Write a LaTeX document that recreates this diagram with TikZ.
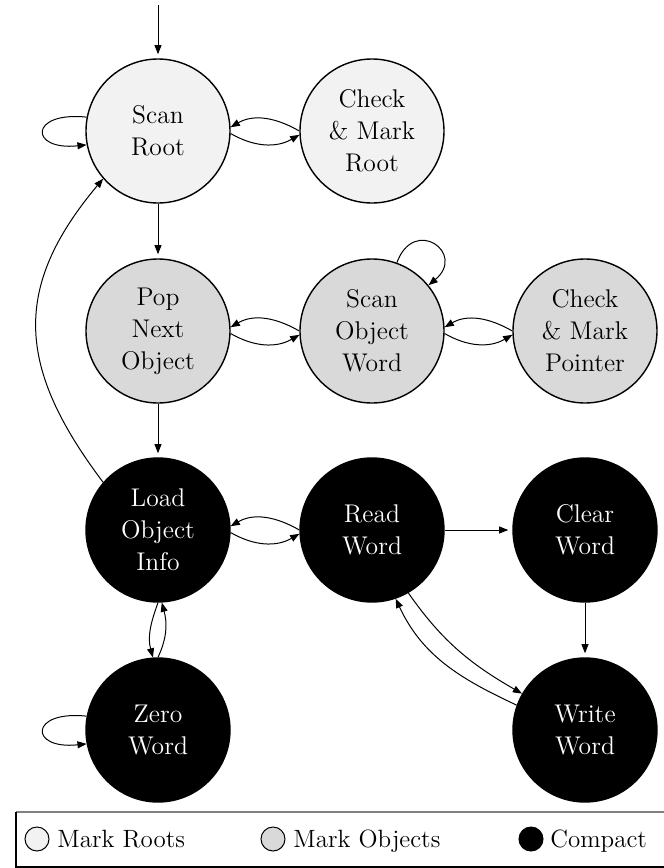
\documentclass[tikz,border=0pt]{standalone}
\usetikzlibrary{arrows.meta}
\definecolor{rootfill}{HTML}{F2F2F2}
\definecolor{objfill}{HTML}{D9D9D9}
\definecolor{legline}{HTML}{808080}
\begin{document}
\begin{tikzpicture}[x=0.5pt,y=0.5pt,
  >={Triangle[length=4.6pt,width=3.5pt]},
  state/.style={circle, draw, line width=0.7pt, minimum size=72pt, inner sep=0pt,
    align=center, font=\fontsize{12.8}{16}\selectfont},
  rootst/.style={state, fill=rootfill},
  objst/.style={state, fill=objfill},
  compst/.style={state, fill=black, text=white},
  edge/.style={->, line width=0.5pt},
  straight/.style={edge, shorten >=2pt},
  legc/.style={circle, draw, line width=0.5pt, minimum size=12pt, inner sep=0pt},
  legt/.style={anchor=base west, inner sep=0pt, font=\fontsize{12.5}{16}\selectfont}]
\useasboundingbox (0,0) rectangle (664,-868);

% states
\node[rootst] (sr)  at (158,-131) {Scan\\Root};
\node[rootst] (cmr) at (372,-131) {Check\\\& Mark\\Root};
\node[objst]  (pno) at (158,-331) {Pop\\Next\\Object};
\node[objst]  (sow) at (372,-331) {Scan\\Object\\Word};
\node[objst]  (cmp) at (585,-331) {Check\\\& Mark\\Pointer};
\node[compst] (loi) at (158,-530) {Load\\Object\\Info};
\node[compst] (rw)  at (372,-530) {Read\\Word};
\node[compst] (cw)  at (585,-530) {Clear\\Word};
\node[compst] (zw)  at (158,-730) {Zero\\Word};
\node[compst] (ww)  at (585,-730) {Write\\Word};

% connectors
\coordinate (start) at (158,-5);
\draw[straight] (start) -- (sr);
\draw[edge] (sr.169) .. controls +(174:58) and +(186:58) .. (sr.191);
\draw[edge] (cmr.180) to[out=150,in=30] (sr.3);
\draw[edge] (sr.-2) to[out=-30,in=210] (cmr.183);
\draw[straight] (sr) -- (pno);

\draw[edge] (sow.70) .. controls +(70:50) and +(40:50) .. (sow.39);
\draw[edge] (sow.180) to[out=150,in=30] (pno.3);
\draw[edge] (pno.-2) to[out=-30,in=210] (sow.183);
\draw[edge] (cmp.180) to[out=150,in=30] (sow.3);
\draw[edge] (sow.-2) to[out=-30,in=210] (cmp.183);
\draw[straight] (pno) -- (loi);

\draw[edge] (loi.139) .. controls +(127:143) and +(230:143) .. (sr.221);
\draw[edge] (rw.180) to[out=150,in=30] (loi.3);
\draw[edge] (loi.-2) to[out=-30,in=210] (rw.183);
\draw[straight] (rw) -- (cw);
\draw[straight] (cw) -- (ww);
\draw[edge] (rw.-60) to[out=-55,in=150] (ww.150);
\draw[edge] (ww.160) to[out=155,in=-65] (rw.-71);

\draw[edge] (loi.-90) to[out=-110,in=105] (zw.94);
\draw[edge] (zw.90) to[out=65,in=-75] (loi.-87);
\draw[edge] (zw.169) .. controls +(174:58) and +(186:58) .. (zw.191);

% legend
\draw[legline, line width=0.9pt] (16,-812) -- (664,-812);
\draw[line width=0.6pt] (16,-812) -- (16,-867) -- (664,-867);
\node[legc, fill=rootfill] (l1) at (37,-839) {};
\node[legt] (t1) at (57,-847) {Mark Roots};
\node[legc, fill=objfill] (l2) at (273,-839) {};
\node[legt] (t2) at (293,-847) {Mark Objects};
\node[legc, fill=black] (l3) at (531,-839) {};
\node[legt] (t3) at (550,-847) {Compact};
\end{tikzpicture}
\end{document}
